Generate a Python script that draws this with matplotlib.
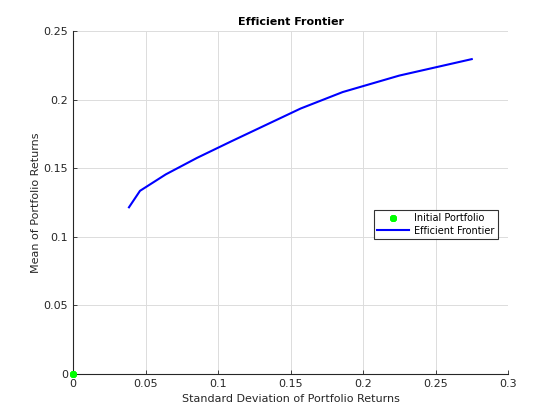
import numpy as np
import matplotlib
matplotlib.use("Agg")
import matplotlib.pyplot as plt

# values
frontier_risk = [0.0386, 0.0462, 0.0640, 0.0855, 0.1090, 0.1330, 0.1570, 0.1860, 0.2250, 0.2750]
frontier_return = [0.1215, 0.1335, 0.1455, 0.1575, 0.1695, 0.1815, 0.1935, 0.2055, 0.2175, 0.2295]
initial_risk = [0.0]
initial_return = [0.0]

x_ticks = [0, 0.05, 0.1, 0.15, 0.2, 0.25, 0.3]
x_labels = ["0", "0.05", "0.1", "0.15", "0.2", "0.25", "0.3"]
y_ticks = [0, 0.05, 0.1, 0.15, 0.2, 0.25]
y_labels = ["0", "0.05", "0.1", "0.15", "0.2", "0.25"]

fig = plt.figure(figsize=(5.6, 4.2), dpi=100)
ax = fig.add_axes([73 / 560, 1 - 374 / 420, 435 / 560, 343 / 420])

# asterisk marker like matlab's '*'
ax.plot(initial_risk, initial_return, linestyle="none", marker=(8, 2, 0), color="#00ff00",
        markersize=5, markeredgewidth=1.6, label="Initial Portfolio", clip_on=False, zorder=5)
ax.plot(frontier_risk, frontier_return, color="#0000ff", linewidth=1.5,
        label="Efficient Frontier")

ax.set_xlim(0, 0.3)
ax.set_ylim(0, 0.25)
ax.set_xticks(x_ticks)
ax.set_xticklabels(x_labels)
ax.set_yticks(y_ticks)
ax.set_yticklabels(y_labels)
ax.tick_params(direction="in", length=3, labelsize=8, colors="#262626", width=0.6)

ax.grid(True, color="#dcdcdc", linewidth=0.7)
ax.set_axisbelow(True)
for side in ["top", "right"]:
    ax.spines[side].set_visible(False)
for side in ["left", "bottom"]:
    ax.spines[side].set_linewidth(0.8)
    ax.spines[side].set_color("#262626")

ax.set_xlabel("Standard Deviation of Portfolio Returns", fontsize=8, color="#262626", labelpad=4)
ax.set_ylabel("Mean of Portfolio Returns", fontsize=8, color="#262626", labelpad=1.5)
ax.set_title("Efficient Frontier", fontsize=8, fontweight="bold", pad=4)

leg = ax.legend(loc="upper left", bbox_to_anchor=((374 - 73) / 435, (374 - 210) / 343),
                fontsize=7, frameon=True, fancybox=False, edgecolor="black",
                borderpad=0.35, handlelength=3.3, handletextpad=0.45, labelspacing=0.25,
                borderaxespad=0)
leg.get_frame().set_linewidth(0.8)

fig.savefig("out.png", dpi=100)
